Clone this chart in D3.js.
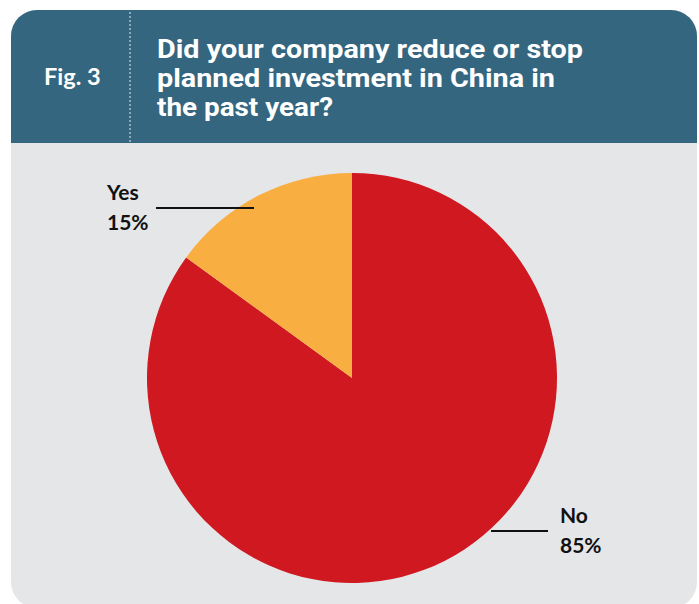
<!DOCTYPE html>
<html>
<head>
<meta charset="utf-8">
<script src="https://cdn.jsdelivr.net/npm/d3@7"></script>
<style>
  html, body { margin: 0; padding: 0; background: #ffffff; }
  svg { display: block; }
</style>
</head>
<body>
<div id="chart"></div>
<script>
// Survey answers and their shares (percent)
const categories = ["No", "Yes"];
const values = [85, 15];
const labels = ["85%", "15%"];
const colors = ["#cf1820", "#f9ae41"];

const figLabel = "Fig. 3";
const titleLines = ["Did your company reduce or stop", "planned investment in China in", "the past year?"];
const titleWidths = [426, 398, 176];

const W = 699, H = 604;
const svg = d3.select("#chart").append("svg").attr("width", W).attr("height", H);

// Card: grey body with a teal header band, rounded corners
const cardX = 11, cardY = 10, cardW = 686, cardH = 598, rad = 26, headerH = 133;
svg.append("rect")
  .attr("x", cardX).attr("y", cardY).attr("width", cardW).attr("height", cardH)
  .attr("rx", rad).attr("fill", "#e5e6e8");

const clip = svg.append("clipPath").attr("id", "cardclip");
clip.append("rect")
  .attr("x", cardX).attr("y", cardY).attr("width", cardW).attr("height", cardH).attr("rx", rad);

svg.append("rect")
  .attr("clip-path", "url(#cardclip)")
  .attr("x", cardX).attr("y", cardY).attr("width", cardW).attr("height", headerH)
  .attr("fill", "#34667f");

// Dotted divider between figure number and title
svg.append("line")
  .attr("x1", 130).attr("x2", 130).attr("y1", cardY + 2).attr("y2", cardY + headerH)
  .attr("stroke", "#c9d6de").attr("stroke-width", 1.2)
  .attr("stroke-dasharray", "2,2");

const font = "Lato, 'Open Sans', sans-serif";

svg.append("text")
  .attr("x", 44).attr("y", 85)
  .attr("fill", "#ffffff").attr("font-family", font)
  .attr("font-size", 23.5).attr("font-weight", 700)
  .text(figLabel);

// Three-line question, each line fitted to its set width
svg.append("g").selectAll("text").data(titleLines).join("text")
  .attr("x", 157).attr("y", (d, i) => 58 + i * 29)
  .attr("fill", "#ffffff").attr("font-family", "Roboto, sans-serif")
  .attr("font-size", 25).attr("font-weight", 700)
  .attr("textLength", (d, i) => titleWidths[i])
  .attr("lengthAdjust", "spacingAndGlyphs")
  .text(d => d);

// Pie
const cx = 352, cy = 378, r = 205;
const data = categories.map((c, i) => ({ cat: c, value: values[i], label: labels[i], color: colors[i] }));
const pie = d3.pie().sort(null).value(d => d.value);
const arc = d3.arc().innerRadius(0).outerRadius(r);

const g = svg.append("g").attr("transform", `translate(${cx},${cy})`);
g.selectAll("path").data(pie(data)).join("path")
  .attr("d", arc)
  .attr("fill", d => d.data.color);

// Leader lines and labels
const callouts = {
  "Yes": { x1: 156, x2: 254, y: 208, tx: 107, ty: 200 },
  "No":  { x1: 491, x2: 548, y: 531, tx: 560, ty: 523 }
};

data.forEach(d => {
  const c = callouts[d.cat];
  svg.append("line")
    .attr("x1", c.x1).attr("x2", c.x2).attr("y1", c.y).attr("y2", c.y)
    .attr("stroke", "#111111").attr("stroke-width", 2);
  const t = svg.append("text")
    .attr("font-family", font).attr("font-size", 21).attr("font-weight", 700)
    .attr("fill", "#111111");
  t.append("tspan").attr("x", c.tx).attr("y", c.ty).text(d.cat);
  t.append("tspan").attr("x", c.tx).attr("y", c.ty + 30).text(d.label);
});
</script>
</body>
</html>
